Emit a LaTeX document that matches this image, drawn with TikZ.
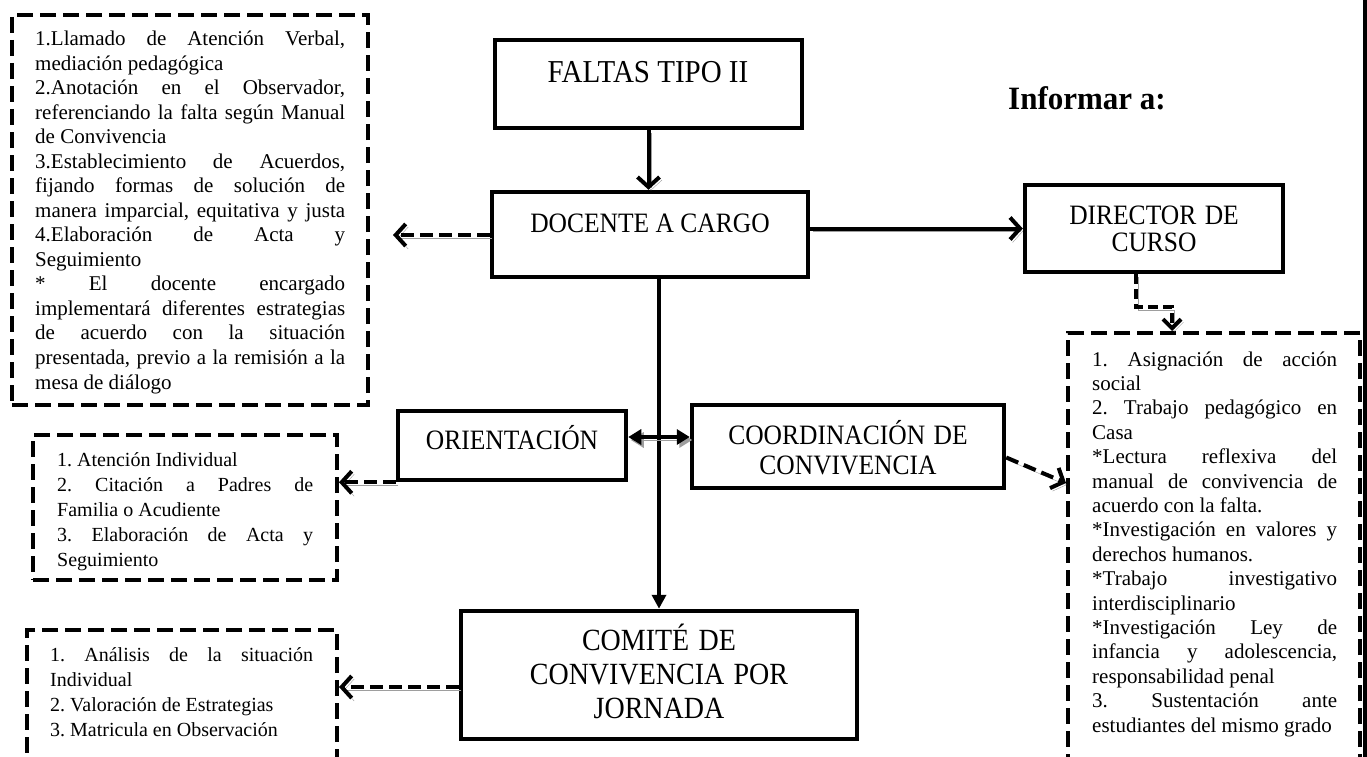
\documentclass[tikz,border=0pt]{standalone}
\usepackage{fontspec}
\setmainfont{Liberation Serif}
\usetikzlibrary{arrows.meta}
\frenchspacing
\newcommand{\jline}[1]{\makebox[\linewidth][s]{#1}}
\newcommand{\tallcaps}[1]{\scalebox{1}[1.1]{#1}}
\tikzset{
  box/.style={draw, line width=4.5pt, rectangle, inner sep=0pt},
  dbox/.style={draw, line width=4pt, dash pattern=on 16pt off 7pt, rectangle, inner sep=0pt},
  bigtxt/.style={inner sep=0pt, font=\fontsize{25.5pt}{27pt}\selectfont},
  para/.style={inner sep=0pt, anchor=base west, align=justify},
  shad/.style={preaction={draw=black!38, transform canvas={shift={(2.5pt,-3pt)}}}},
  arr/.style={line width=4pt, -{Straight Barb[length=10pt,width=22pt]}, shad},
  darr/.style={line width=4pt, dash pattern=on 13pt off 6pt, -{Straight Barb[length=10pt,width=22pt]}, shad},
}
\begin{document}
\begin{tikzpicture}[x=1pt, y=-1pt]
\useasboundingbox (0,0) rectangle (1367,757);
\clip (0,0) rectangle (1367,757);

% solid boxes
\node[box, minimum width=307pt, minimum height=88pt] (faltas) at (648.5,84) {};
\node[box, minimum width=316pt, minimum height=85pt] (docente) at (650,234.5) {};
\node[box, minimum width=258pt, minimum height=87pt] (director) at (1154,228.5) {};
\node[box, minimum width=228pt, minimum height=69pt] (orient) at (512,445.5) {};
\node[box, minimum width=312pt, minimum height=83pt] (coord) at (848,446.5) {};
\node[box, minimum width=396pt, minimum height=128pt] (comite) at (659,675) {};

% box texts
\node[inner sep=0pt, anchor=base, font=\fontsize{29pt}{34pt}\selectfont] (faltasT) at (648,83) {\tallcaps{FALTAS TIPO II}};
\node[bigtxt, anchor=base] (docenteT) at (650,232) {\tallcaps{DOCENTE A CARGO}};
\node[bigtxt, anchor=base, text width=250pt, align=center] (directorT) at (1154,224) {\tallcaps{DIRECTOR DE}\\\tallcaps{CURSO}};
\node[bigtxt, anchor=base] (orientT) at (512,449) {\tallcaps{ORIENTACIÓN}};
\node[bigtxt, anchor=base, text width=300pt, align=center, font=\fontsize{25.5pt}{30pt}\selectfont] (coordT) at (848,444) {\tallcaps{COORDINACIÓN DE}\\\tallcaps{CONVIVENCIA}};
\node[inner sep=0pt, anchor=base, text width=390pt, align=center, font=\fontsize{28pt}{34pt}\selectfont] (comiteT) at (659,650) {\tallcaps{COMITÉ DE}\\\tallcaps{CONVIVENCIA POR}\\\tallcaps{JORNADA}};

\node[inner sep=0pt, anchor=base west, font=\bfseries\fontsize{31pt}{36pt}\selectfont] (informar) at (1008,110) {\scalebox{1}[1.05]{Informar a:}};

% dashed boxes
\node[dbox, minimum width=356pt, minimum height=390pt] (tl) at (190,210) {};
\node[dbox, minimum width=304pt, minimum height=145pt] (ml) at (185,507.5) {};
\node[dbox, minimum width=310pt, minimum height=170pt] (bl) at (182,715) {};
\node[dbox, minimum width=292pt, minimum height=467pt] (rb) at (1214,566.5) {};
\draw[line width=3.5pt] (1365,0) -- (1365,757);

% dashed box texts
\node[para, text width=310pt, font=\fontsize{21pt}{24.5pt}\selectfont] (tlT) at (35,46) {%
\jline{1.Llamado de Atención Verbal,}\\
mediación pedagógica\\
\jline{2.Anotación en el Observador,}\\
\jline{referenciando la falta según Manual}\\
de Convivencia\\
\jline{3.Establecimiento de Acuerdos,}\\
\jline{fijando formas de solución de}\\
\jline{manera imparcial, equitativa y justa}\\
\jline{4.Elaboración de Acta y}\\
Seguimiento\\
\jline{* El docente encargado}\\
\jline{implementará diferentes estrategias}\\
\jline{de acuerdo con la situación}\\
\jline{presentada, previo a la remisión a la}\\
mesa de diálogo};

\node[para, text width=256pt, font=\fontsize{20pt}{25pt}\selectfont] (mlT) at (57,466) {%
1. Atención Individual\\
\jline{2. Citación a Padres de}\\
Familia o Acudiente\\
\jline{3. Elaboración de Acta y}\\
Seguimiento};

\node[para, text width=263pt, font=\fontsize{20pt}{25pt}\selectfont] (blT) at (50,661) {%
\jline{1. Análisis de la situación}\\
Individual\\
2. Valoración de Estrategias\\
3. Matricula en Observación};

\node[para, text width=245pt, font=\fontsize{21pt}{24.4pt}\selectfont] (rbT) at (1092,366) {%
\jline{1. Asignación de acción}\\
social\\
\jline{2. Trabajo pedagógico en}\\
Casa\\
\jline{*Lectura reflexiva del}\\
\jline{manual de convivencia de}\\
acuerdo con la falta.\\
\jline{*Investigación en valores y}\\
derechos humanos.\\
\jline{*Trabajo investigativo}\\
interdisciplinario\\
\jline{*Investigación Ley de}\\
\jline{infancia y adolescencia,}\\
responsabilidad penal\\
\jline{3. Sustentación ante}\\
estudiantes del mismo grado};

% coordinates for free ends
\coordinate (tlIn) at (393,235);
\coordinate (rbIn) at (1066,483);
\coordinate (dcBend) at (1172,307);

% connectors
\draw[arr] (faltas.south) -- (faltas.south |- docente.north);
\draw[darr] (docente.west |- tlIn) -- (tlIn);
\draw[arr] (docente.east |- director.west) -- (director.west);
\draw[line width=3.5pt, -{Triangle[length=14pt,width=14pt]}] (comite.north |- docente.south) -- (comite.north);
\draw[line width=4pt, {Triangle[length=13pt,width=15pt]}-{Triangle[length=13pt,width=15pt]}, shad] ([yshift=8.5pt]orient.east) -- ([yshift=8.5pt]orient.east -| coord.west);
\draw[darr] (orient.south west) -- (orient.south west -| ml.east);
\draw[darr] ([yshift=-12pt]comite.west) -- ([yshift=-12pt]comite.west -| bl.east);
\draw[darr] ([yshift=-11pt]coord.east) -- (rbIn);
\draw[line width=4pt, dash pattern=on 10pt off 5pt, -{Straight Barb[length=9pt,width=18pt]}, shad] ([xshift=-18pt]director.south) |- (dcBend) -- (dcBend |- rb.north);
\end{tikzpicture}
\end{document}
